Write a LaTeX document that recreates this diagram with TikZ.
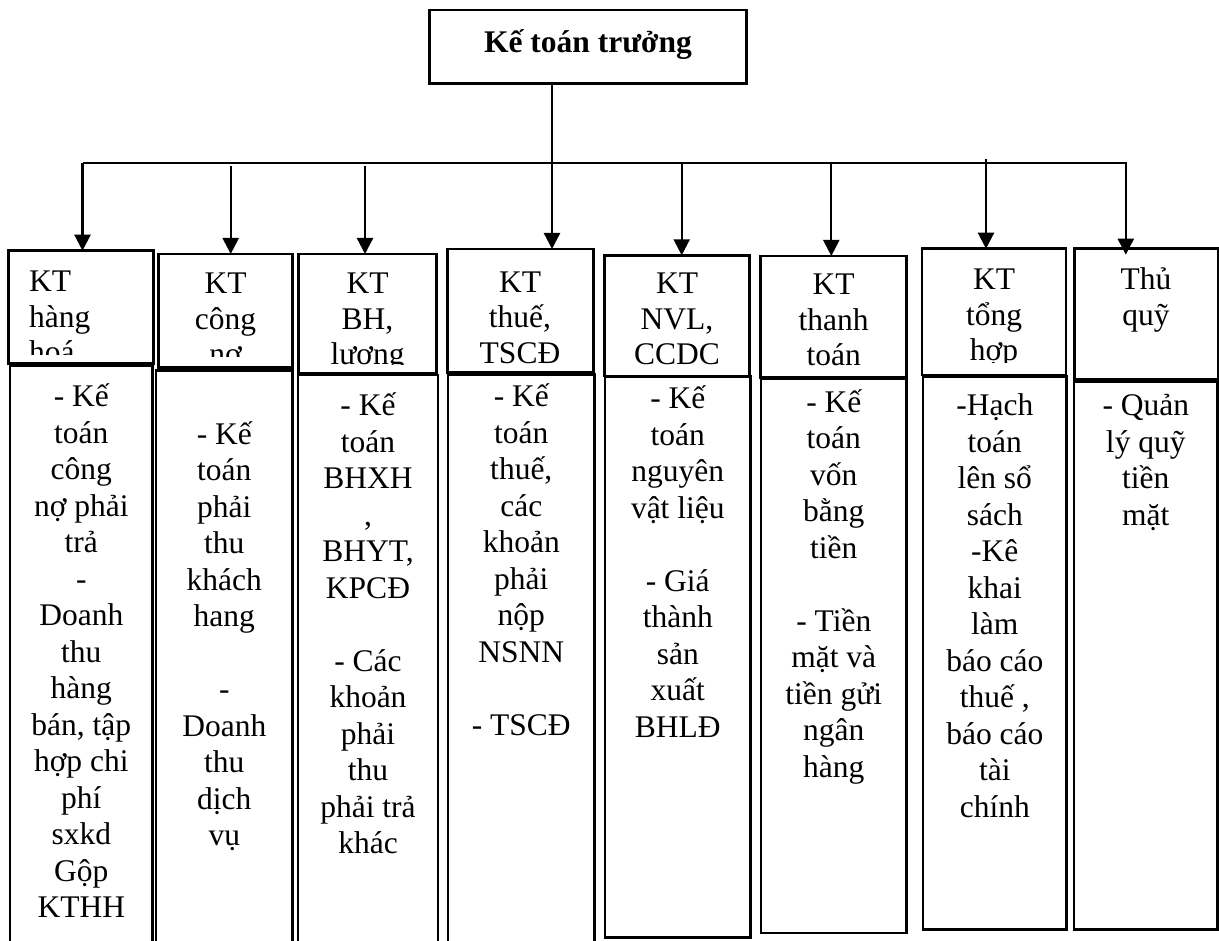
\documentclass[tikz,border=0pt]{standalone}
\usepackage{fontspec}
\setmainfont{Liberation Serif}
\usetikzlibrary{arrows.meta,calc}

% one framed cell: name, left, top, right, bottom (pixel-like units, y downwards)
\newcommand{\cell}[5]{%
  \node[frame, minimum width={#4-#2}, minimum height={#5-#3}] (#1) at (#2,#3) {};}

\begin{document}
\begin{tikzpicture}[x=1pt, y=-1pt,
  frame/.style={draw, line width=2.6pt, inner sep=0pt, outer sep=0pt, anchor=north west},
  % multi-line texts are placed by the baseline of their last line
  txt/.style={font=\fontsize{31.5}{36.5}\selectfont, align=center, inner sep=0pt, anchor=base},
  htxt/.style={font=\fontsize{31.5}{35.5}\selectfont, align=center, inner sep=0pt, anchor=base},
  bus/.style={line width=1.8pt},
  arr/.style={line width=2.3pt, -{Triangle[width=16pt,length=16pt]}}]

\fill[white] (0,0) rectangle (1219,941);
\useasboundingbox (0,0) rectangle (1219,941);

% head of the department
\cell{top}{429.3}{10}{746.7}{83.3}
\node[txt, font=\fontsize{31.5}{36.5}\selectfont\bfseries] (toptxt) at (588,53) {Kế toán trưởng};

% header cells
\cell{h1}{8.6}{250.7}{153.7}{363.3}
\cell{h2}{158.3}{254}{292.6}{367.7}
\cell{h3}{298.4}{254}{436.5}{373.3}
\cell{h4}{447.4}{249}{593.3}{372.3}
\cell{h5}{604.7}{255.3}{749.2}{376}
\cell{h6}{760.7}{256}{906.7}{377.5}
\cell{h7}{922}{248.7}{1065.8}{375}
\cell{h8}{1074.5}{248.7}{1217.8}{379.3}

% duty cells
\cell{b1}{10}{366}{152.5}{955}
\cell{b2}{156}{370.7}{292.5}{955}
\cell{b3}{298}{375}{438}{955}
\cell{b4}{448}{374.3}{594.5}{941.8}
\cell{b5}{605}{376.7}{750.5}{937.5}
\cell{b6}{761}{378.7}{906.5}{933}
\cell{b7}{923}{376.7}{1066.5}{929.5}
\cell{b8}{1074}{381.3}{1217.5}{929.5}

% header titles (the lower lines run out of their frames)
\begin{scope}
  \clip (h1.north west) rectangle (h1.east |- 0,355);
  \node[htxt, align=left, anchor=base west] (t1) at (29,362.7) {KT\\hàng\\hoá};
\end{scope}
\begin{scope}
  \clip (h2.north west) rectangle (h2.east |- 0,357);
  \node[htxt] (t2) at (225.5,365) {KT\\công\\nợ};
\end{scope}
\begin{scope}
  \clip (h3.north west) rectangle (h3.east |- 0,365);
  \node[htxt] (t3) at (367.5,365) {KT\\BH,\\lương};
\end{scope}
\begin{scope}
  \clip (h4.north west) rectangle (h4.east |- 0,366);
  \node[htxt] (t4) at (520,363.3) {KT\\thuế,\\TSCĐ};
\end{scope}
\begin{scope}
  \clip (h5.north west) rectangle (h5.east |- 0,365);
  \node[htxt] (t5) at (677,365) {KT\\NVL,\\CCDC};
\end{scope}
\begin{scope}
  \clip (h6.north west) rectangle (h6.east |- 0,371);
  \node[htxt] (t6) at (833.7,366) {KT\\thanh\\toán};
\end{scope}
\begin{scope}
  \clip (h7.north west) rectangle (h7.east |- 0,363);
  \node[htxt] (t7) at (994,361) {KT\\tổng\\hợp};
\end{scope}
\node[htxt] (t8) at (1146,325.5) {Thủ\\quỹ};

% duties
\node[txt] (d1) at (81.3,917.8) {- Kế\\toán\\công\\nợ phải\\trả\\-\\Doanh\\thu\\hàng\\bán, tập\\hợp chi\\phí\\sxkd\\Gộp\\KTHH};
\node[txt] (d2) at (224.3,845.9) {- Kế\\toán\\phải\\thu\\khách\\hang\\{}\\-\\Doanh\\thu\\dịch\\vụ};
\node[txt] (d3) at (368,853.8) {- Kế\\toán\\BHXH\\,\\BHYT,\\KPCĐ\\{}\\- Các\\khoản\\phải\\thu\\phải trả\\khác};
\node[txt] (d4) at (521.3,735.3) {- Kế\\toán\\thuế,\\các\\khoản\\phải\\nộp\\NSNN\\{}\\- TSCĐ};
\node[txt] (d5) at (677.8,737.1) {- Kế\\toán\\nguyên\\vật liệu\\{}\\- Giá\\thành\\sản\\xuất\\BHLĐ};
\node[txt] (d6) at (833.8,777.2) {- Kế\\toán\\vốn\\bằng\\tiền\\{}\\- Tiền\\mặt và\\tiền gửi\\ngân\\hàng};
\node[txt] (d7) at (994.8,817.3) {-Hạch\\toán\\lên sổ\\sách\\-Kê\\khai\\làm\\báo cáo\\thuế ,\\báo cáo\\tài\\chính};
\node[txt] (d8) at (1145.8,525.3) {- Quản\\lý quỹ\\tiền\\mặt};

% distribution bus and its taps
\coordinate (busL) at (82.5,163);
\coordinate (busR) at (1127,163);
\coordinate (j1) at (82.5,163);
\coordinate (j2) at (230.7,165.7);
\coordinate (j3) at (365,165.7);
\coordinate (j4) at (552,163);
\coordinate (j5) at (681.7,163);
\coordinate (j6) at (831.3,162);
\coordinate (j7) at (986,159.3);
\coordinate (j8) at (1125.8,163);

\draw[bus] (busL) -- (busR);
\draw[arr] (top.south -| j4) -- (j4 |- h4.north);
\draw[arr] (j1) -- (j1 |- h1.north);
\draw[arr] (j2) -- (j2 |- h2.north);
\draw[arr] (j3) -- (j3 |- h3.north);
\draw[arr] (j5) -- (j5 |- h5.north);
\draw[arr] (j6) -- (j6 |- h6.north);
\draw[arr] (j7) -- (j7 |- h7.north);
\draw[arr] (j8) -- ($(j8 |- h8.north)+(0,6)$);
\end{tikzpicture}
\end{document}
